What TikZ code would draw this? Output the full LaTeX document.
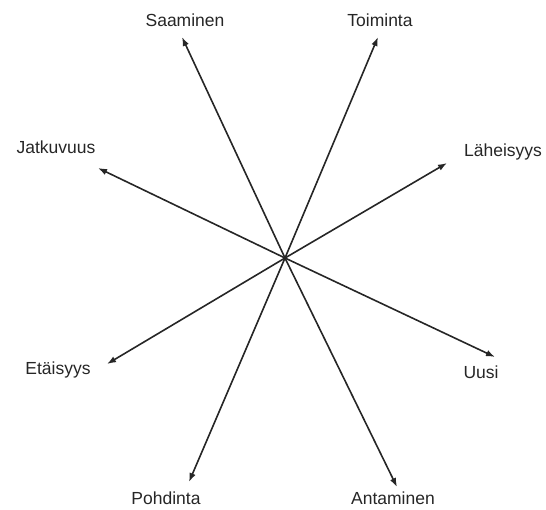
\documentclass[tikz,border=0pt]{standalone}
\usepackage{fontspec}
\setmainfont{Liberation Sans}
\usetikzlibrary{arrows.meta}
\begin{document}
\begin{tikzpicture}[x=1pt,y=-1pt,
  lbl/.style={font=\fontsize{17.5}{20}\selectfont, text=black!85, inner sep=0pt},
  arr/.style={-{Latex[length=9pt,width=6.5pt]}, line width=1.6pt, black!85}]
\useasboundingbox (0,0) rectangle (546,509);
\coordinate (c) at (285,258);
\coordinate (tS) at (182,37);
\coordinate (tT) at (378,37);
\coordinate (tJ) at (98,168);
\coordinate (tL) at (447,163);
\coordinate (tE) at (107,364);
\coordinate (tU) at (495,357);
\coordinate (tP) at (189,482);
\coordinate (tA) at (397,487);
\node[lbl] (S) at (185,20) {Saaminen};
\node[lbl] (T) at (380,20) {Toiminta};
\node[lbl] (J) at (56,147) {Jatkuvuus};
\node[lbl] (L) at (503,152) {Läheisyys};
\node[lbl] (E) at (58,370) {Etäisyys};
\node[lbl] (U) at (481,372) {Uusi};
\node[lbl] (P) at (166,498) {Pohdinta};
\node[lbl] (A) at (393,498) {Antaminen};
\foreach \t in {tS,tT,tJ,tL,tE,tU,tP,tA} \draw[arr] (c) -- (\t);
\end{tikzpicture}
\end{document}
